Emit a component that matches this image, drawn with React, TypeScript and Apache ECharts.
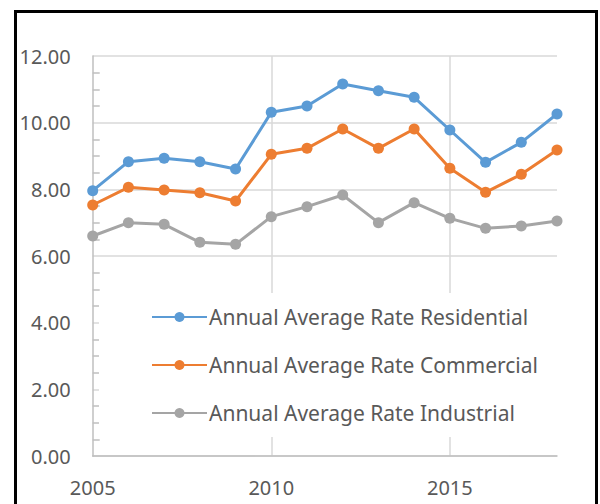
import React, { useEffect, useRef } from "react";
import * as echarts from "echarts";

const years = ["2005","2006","2007","2008","2009","2010","2011","2012","2013","2014","2015","2016","2017","2018"];
const residential = [7.96, 8.83, 8.93, 8.83, 8.61, 10.31, 10.5, 11.16, 10.96, 10.76, 9.78, 8.81, 9.41, 10.26];
const commercial = [7.53, 8.06, 7.98, 7.9, 7.65, 9.05, 9.23, 9.81, 9.23, 9.81, 8.63, 7.91, 8.45, 9.18];
const industrial = [6.6, 7.0, 6.95, 6.41, 6.35, 7.18, 7.48, 7.83, 7.0, 7.6, 7.13, 6.83, 6.9, 7.05];
const seriesNames = [
  "Annual Average Rate Residential",
  "Annual Average Rate Commercial",
  "Annual Average Rate Industrial",
];
const colors = ["#5B9BD5", "#ED7D31", "#A5A5A5"];
const yTicks = { min: 0, max: 12, interval: 2 };

const FONT = "Noto Sans";
const LABEL = "#595959";

export default function App() {
  const ref = useRef<HTMLDivElement>(null);
  useEffect(() => {
    if (!ref.current) return;
    const chart = echarts.init(ref.current, undefined, { renderer: "svg" });
    const data = [residential, commercial, industrial];
    chart.setOption({
      animation: false,
      backgroundColor: "#ffffff",
      grid: { left: 92.7, right: 43, top: 56, bottom: 48, containLabel: false },
      xAxis: {
        type: "category",
        data: years,
        boundaryGap: false,
        axisLine: { show: true, lineStyle: { color: "#BFBFBF", width: 1.5 } },
        axisTick: { show: false },
        axisLabel: {
          interval: (i: number) => i % 5 === 0,
          margin: 21,
          fontFamily: FONT,
          fontSize: 20,
          color: LABEL,
        },
        splitLine: {
          show: true,
          interval: (i: number) => i % 5 === 0 && i > 0,
          lineStyle: { color: "#D9D9D9", width: 1.5 },
        },
      },
      yAxis: {
        type: "value",
        min: yTicks.min,
        max: yTicks.max,
        interval: yTicks.interval,
        axisLine: { show: true, lineStyle: { color: "#BFBFBF", width: 1.5 } },
        axisTick: { show: false, inside: true, length: 7 },
        minorTick: { show: true, splitNumber: 4, length: 7, lineStyle: { color: "#BFBFBF", width: 1.5 } },
        axisLabel: {
          margin: 22,
          fontFamily: FONT,
          fontSize: 20,
          color: LABEL,
          formatter: (v: number) => v.toFixed(2),
        },
        splitLine: { show: true, lineStyle: { color: "#D9D9D9", width: 1.5 } },
      },
      legend: {
        orient: "vertical",
        left: 151,
        top: 305,
        padding: 0,
        itemGap: 24,
        itemWidth: 55,
        itemHeight: 12.5,
        textStyle: { fontFamily: FONT, fontSize: 21, color: LABEL, lineHeight: 24, padding: [0, 0, 0, -3] },
        data: seriesNames,
      },
      graphic: [
        {
          type: "rect",
          z: 1,
          shape: { x: 99, y: 293, width: 470, height: 144 },
          style: { fill: "#ffffff" },
        },
        {
          type: "rect",
          z: 100,
          shape: { x: 15.5, y: 11.5, width: 581, height: 520 },
          style: { fill: "none", stroke: "#000000", lineWidth: 3 },
        },
      ],
      series: seriesNames.map((name, i) => ({
        name,
        type: "line",
        data: data[i],
        symbol: "circle",
        symbolSize: 11,
        color: colors[i],
        lineStyle: { width: 3, color: colors[i] },
        itemStyle: { color: colors[i] },
        z: 3,
      })),
    });
    return () => chart.dispose();
  }, []);
  return (
    <div
      ref={ref}
      style={{ position: "fixed", left: 0, top: 0, width: 600, height: 504 }}
    />
  );
}
